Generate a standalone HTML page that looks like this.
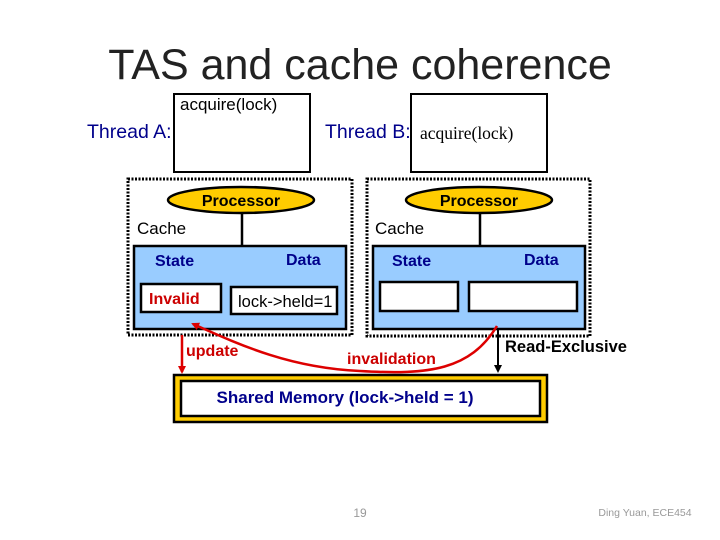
<!DOCTYPE html>
<html><head><style>
body{margin:0;width:720px;height:540px;background:#fff;position:relative;overflow:hidden;font-family:"Liberation Sans",sans-serif}
.a{position:absolute}
</style></head><body>
<div class="a" style="left:0;width:720px;top:41px;text-align:center;font-size:43px;color:#222">TAS and cache coherence</div>
<svg class="a" style="left:0;top:0" width="720" height="540">
<defs>
<marker id="r" markerWidth="8" markerHeight="8" refX="6" refY="4" orient="auto" markerUnits="userSpaceOnUse"><path d="M0,0L8,4L0,8z" fill="#d00"/></marker>
<marker id="k" markerWidth="8" markerHeight="8" refX="6" refY="4" orient="auto" markerUnits="userSpaceOnUse"><path d="M0,0L8,4L0,8z" fill="#000"/></marker>
</defs>
<rect x="174" y="94" width="136" height="78" fill="#fff" stroke="#000" stroke-width="2"/>
<rect x="411" y="94" width="136" height="78" fill="#fff" stroke="#000" stroke-width="2"/>
<rect x="128" y="179" width="224" height="156" fill="none" stroke="#000" stroke-width="3" stroke-dasharray="2,1.5"/>
<rect x="367" y="179" width="223" height="157" fill="none" stroke="#000" stroke-width="3" stroke-dasharray="2,1.5"/>
<rect x="134" y="246" width="212" height="83" fill="#99ccff" stroke="#000" stroke-width="2.5"/>
<rect x="373" y="246" width="212" height="83" fill="#99ccff" stroke="#000" stroke-width="2.5"/>
<line x1="242" y1="212" x2="242" y2="246" stroke="#000" stroke-width="2.5"/>
<line x1="480" y1="212" x2="480" y2="246" stroke="#000" stroke-width="2.5"/>
<ellipse cx="241" cy="200" rx="73" ry="13" fill="#ffcc00" stroke="#000" stroke-width="2.5"/>
<ellipse cx="479" cy="200" rx="73" ry="13" fill="#ffcc00" stroke="#000" stroke-width="2.5"/>
<rect x="141" y="284" width="80" height="28" fill="#fff" stroke="#000" stroke-width="2.5"/>
<rect x="231" y="287" width="106" height="27" fill="#fff" stroke="#000" stroke-width="2.5"/>
<rect x="380" y="282" width="78" height="29" fill="#fff" stroke="#000" stroke-width="2.5"/>
<rect x="469" y="282" width="108" height="29" fill="#fff" stroke="#000" stroke-width="2.5"/>
<rect x="174" y="375" width="373" height="47" fill="#ffcc00" stroke="#000" stroke-width="2.5"/>
<rect x="181" y="381" width="359" height="35" fill="#fff" stroke="#000" stroke-width="2.5"/>
<line x1="182" y1="335" x2="182" y2="372" stroke="#d00" stroke-width="2.5" marker-end="url(#r)"/>
<line x1="498" y1="328" x2="498" y2="371" stroke="#000" stroke-width="2" marker-end="url(#k)"/>
<path d="M497,326 C470,370 430,375 360,371 C290,368 240,345 193,324" fill="none" stroke="#d00" stroke-width="2.5" marker-end="url(#r)"/>
<g font-family="Liberation Sans,sans-serif">
<text x="180" y="110" font-size="17">acquire(lock)</text>
<text x="420" y="139" font-size="17.5" font-family="Liberation Serif,serif">acquire(lock)</text>
<text x="87" y="138" font-size="19.5" fill="#00008b">Thread A:</text>
<text x="325" y="138" font-size="19.5" fill="#00008b">Thread B:</text>
<text x="241" y="206" font-size="16" font-weight="bold" text-anchor="middle">Processor</text>
<text x="479" y="206" font-size="16" font-weight="bold" text-anchor="middle">Processor</text>
<text x="137" y="234" font-size="17">Cache</text>
<text x="375" y="234" font-size="17">Cache</text>
<text x="155" y="266" font-size="16" font-weight="bold" fill="#00008b">State</text>
<text x="286" y="265" font-size="16" font-weight="bold" fill="#00008b">Data</text>
<text x="392" y="266" font-size="16" font-weight="bold" fill="#00008b">State</text>
<text x="524" y="265" font-size="16" font-weight="bold" fill="#00008b">Data</text>
<text x="149" y="304" font-size="16" font-weight="bold" fill="#cc0000">Invalid</text>
<text x="238" y="307" font-size="16.5">lock-&gt;held=1</text>
<text x="186" y="356" font-size="16" font-weight="bold" fill="#cc0000">update</text>
<text x="347" y="364" font-size="16" font-weight="bold" fill="#cc0000">invalidation</text>
<text x="505" y="352" font-size="16.5" font-weight="bold">Read-Exclusive</text>
<text x="345" y="403" font-size="17" font-weight="bold" fill="#00008b" text-anchor="middle">Shared Memory (lock-&gt;held = 1)</text>
<text x="360" y="517" font-size="12" fill="#999" text-anchor="middle">19</text>
<text x="645" y="516" font-size="10.5" fill="#999" text-anchor="middle">Ding Yuan, ECE454</text>
</g>
</svg>
</body></html>
